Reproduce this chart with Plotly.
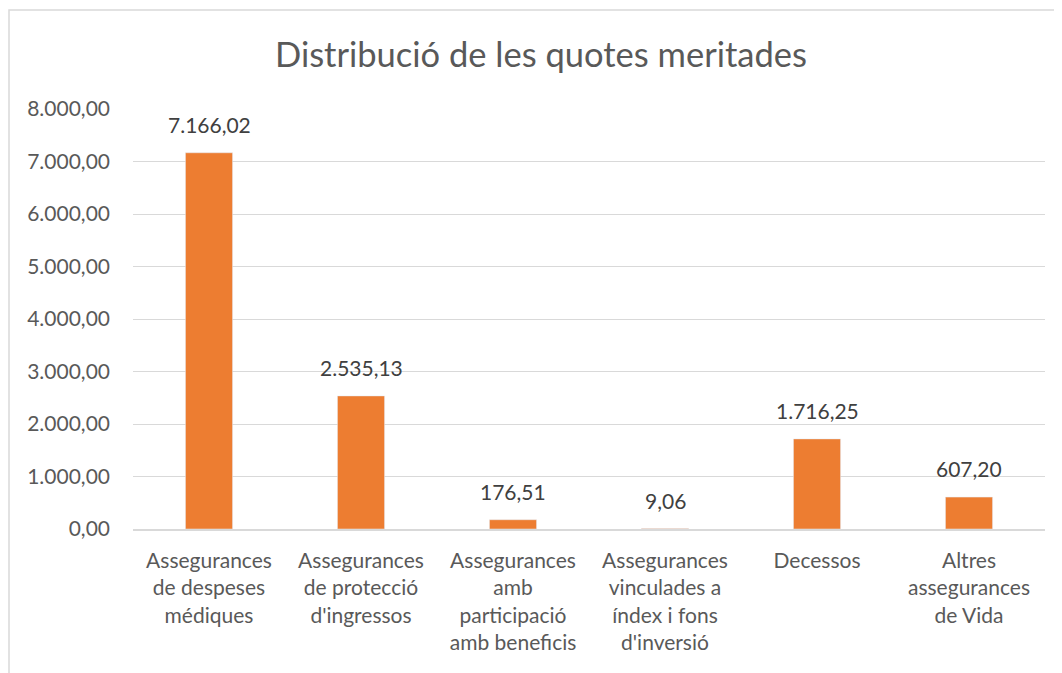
import plotly.graph_objects as go

categories = [
    "Assegurances<br>de despeses<br>médiques",
    "Assegurances<br>de protecció<br>d'ingressos",
    "Assegurances<br>amb<br>participació<br>amb beneficis",
    "Assegurances<br>vinculades a<br>índex i fons<br>d'inversió",
    "Decessos",
    "Altres<br>assegurances<br>de Vida",
]
values = [7166.02, 2535.13, 176.51, 9.06, 1716.25, 607.20]
tick_vals = [0, 1000, 2000, 3000, 4000, 5000, 6000, 7000, 8000]


def ca_num(v):
    # 7166.02 -> "7.166,02"
    return f"{v:,.2f}".replace(",", "_").replace(".", ",").replace("_", ".")


# the page puts the figure 8px in from the top-left corner
W, H = 1054, 665
ml, mr, mt, mb = 125, 17, 101, 144
pw, ph = W - ml - mr, H - mt - mb

fig = go.Figure(go.Bar(
    x=categories, y=values,
    marker_color="#ED7D31",
    cliponaxis=False,
))

# value labels sit a little higher above the bars than plotly's "outside" text
for cat, val in zip(categories, values):
    fig.add_annotation(x=cat, y=val, text=ca_num(val),
                       showarrow=False, yanchor="bottom", yshift=14,
                       font=dict(size=21, color="#404040"))

fig.update_layout(
    width=W, height=H,
    margin=dict(l=ml, r=mr, t=mt, b=mb),
    separators=",.",
    font=dict(family="Lato, Open Sans, sans-serif", color="#595959", size=21),
    title=dict(text="Distribució de les quotes meritades", x=(541 - 8) / W, xanchor="center",
               y=1 - 47 / H, yanchor="middle",
               font=dict(size=34.5, color="#595959")),
    plot_bgcolor="white", paper_bgcolor="white",
    bargap=0.69,
    showlegend=False,
)
fig.update_yaxes(range=[0, 8000], tickvals=tick_vals, tickformat=",.2f",
                 gridcolor="#D9D9D9", gridwidth=1, zeroline=False,
                 showline=False, ticks="", ticklabelstandoff=22)
fig.update_xaxes(showline=True, linecolor="#D9D9D9", linewidth=1.5, ticks="",
                 ticklabelstandoff=12)

# outer chart border (runs off the right and bottom edges)
fig.add_shape(type="rect", xref="paper", yref="paper",
              x0=(1 - ml) / pw, x1=(W + 5 - ml) / pw,
              y0=-(mb + 5) / ph, y1=1 + (mt - 2) / ph,
              line=dict(color="#D9D9D9", width=1.5), fillcolor="rgba(0,0,0,0)")

fig.write_html("out.html")
